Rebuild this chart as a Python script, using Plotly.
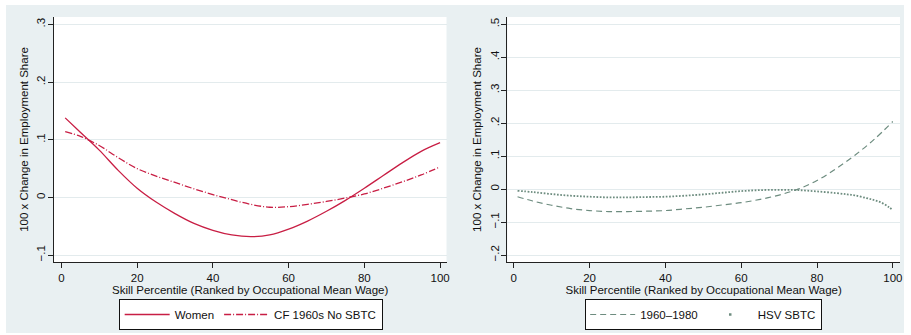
import plotly.graph_objects as go

# ---- data ----
pct = [1, 5, 10, 15, 20, 25, 30, 35, 40, 45, 50, 55, 60, 65, 70, 75, 80, 85, 90, 95, 100]
women = [0.138, 0.113, 0.082, 0.047, 0.016, -0.008, -0.028, -0.045, -0.057, -0.065, -0.068,
         -0.065, -0.055, -0.041, -0.024, -0.005, 0.016, 0.038, 0.060, 0.080, 0.095]
cf1960 = [0.114, 0.106, 0.090, 0.069, 0.050, 0.037, 0.026, 0.015, 0.005, -0.004, -0.012,
          -0.017, -0.016, -0.012, -0.007, -0.001, 0.006, 0.016, 0.027, 0.039, 0.053]

pct_r = [1, 5, 10, 15, 20, 25, 30, 35, 40, 45, 50, 55, 60, 65, 70, 75, 80, 85, 90, 95, 100]
emp_6080 = [-0.023, -0.036, -0.049, -0.059, -0.065, -0.068, -0.068, -0.067, -0.065, -0.060, -0.055,
            -0.048, -0.041, -0.031, -0.018, 0.000, 0.026, 0.062, 0.103, 0.150, 0.205]
pct_h = [1, 5, 10, 15, 20, 25, 30, 35, 40, 45, 50, 55, 60, 65, 70, 75, 80, 85, 88, 90, 93, 95, 97, 99, 100]
hsv_sbtc = [-0.005, -0.009, -0.015, -0.020, -0.023, -0.025, -0.025, -0.024, -0.023, -0.020, -0.016,
            -0.011, -0.006, -0.003, -0.002, -0.003, -0.007, -0.012, -0.016, -0.019, -0.027, -0.033,
            -0.041, -0.055, -0.064]

x_ticks = [0, 20, 40, 60, 80, 100]
y_ticks_l = [-0.1, 0, 0.1, 0.2, 0.3]
y_text_l = ["\u2212.1", "0", ".1", ".2", ".3"]
y_ticks_r = [-0.2, -0.1, 0, 0.1, 0.2, 0.3, 0.4, 0.5]
y_text_r = ["\u2212.2", "\u2212.1", "0", ".1", ".2", ".3", ".4", ".5"]

RED = "#c81e44"
GRN = "#6d8c7f"
BG = "#e9f0f2"
GRID = "#e3ebed"
FONT = "Liberation Sans, Arial, sans-serif"
FS = 11.5
W, H = 911, 335

fig = go.Figure()
fig.add_trace(go.Scatter(x=pct, y=women, mode="lines", name="Women",
                         line=dict(color=RED, width=1.3, shape="spline"),
                         xaxis="x", yaxis="y", legend="legend"))
fig.add_trace(go.Scatter(x=pct, y=cf1960, mode="lines", name="CF 1960s No SBTC",
                         line=dict(color=RED, width=1.3, shape="spline", dash="7px,2px,1px,2px"),
                         xaxis="x", yaxis="y", legend="legend"))
fig.add_trace(go.Scatter(x=pct_r, y=emp_6080, mode="lines", name="1960\u20131980",
                         line=dict(color=GRN, width=1.2, shape="spline", dash="6px,4px"),
                         xaxis="x2", yaxis="y2", legend="legend2"))
fig.add_trace(go.Scatter(x=pct_h, y=hsv_sbtc, mode="lines", name="HSV SBTC",
                         line=dict(color=GRN, width=1.8, shape="spline", dash="1.7px,1.6px"),
                         xaxis="x2", yaxis="y2", legend="legend2", legendgroup="hsv",
                         showlegend=False))
# legend key for the dotted series: Stata shows a single dot as the key
fig.add_trace(go.Scatter(x=[None], y=[None], mode="markers", name="HSV SBTC",
                         marker=dict(color=GRN, size=2.5, symbol="square"),
                         xaxis="x2", yaxis="y2", legend="legend2", legendgroup="hsv"))

def px_x(a, b):
    return [a / W, b / W]

def px_y(top, bottom):
    return [1 - bottom / H, 1 - top / H]

axis_common = dict(showline=True, linecolor="#222", linewidth=1, ticks="outside",
                   ticklen=5, tickcolor="#222", tickwidth=1, zeroline=False,
                   tickfont=dict(size=FS, color="#111", family=FONT),
                   mirror=False)

title_x = "Skill Percentile (Ranked by Occupational Mean Wage)"
title_y = "100 x Change in Employment Share"

fig.update_layout(
    width=W, height=H, margin=dict(l=0, r=0, t=0, b=0),
    paper_bgcolor="white", plot_bgcolor="rgba(0,0,0,0)",
    font=dict(family=FONT, size=FS, color="#111"),
    xaxis=dict(domain=px_x(54, 448), anchor="y", range=[-2.0, 101.7], tickvals=x_ticks,
               showgrid=False, title=dict(text=title_x, standoff=1, font=dict(size=FS)), **axis_common),
    yaxis=dict(domain=px_y(17, 262), anchor="x", range=[-0.112, 0.313], tickvals=y_ticks_l,
               ticktext=y_text_l, tickangle=-90, showgrid=True, gridcolor=GRID, gridwidth=1,
               ticklabelstandoff=-2,
               title=dict(text=title_y, standoff=4, font=dict(size=FS)), **axis_common),
    xaxis2=dict(domain=px_x(509, 903), anchor="y2", range=[-1.7, 101.9], tickvals=x_ticks,
                showgrid=False, title=dict(text=title_x, standoff=1, font=dict(size=FS)), **axis_common),
    yaxis2=dict(domain=px_y(17, 262), anchor="x2", range=[-0.221, 0.522], tickvals=y_ticks_r,
                ticktext=y_text_r, tickangle=-90, showgrid=True, gridcolor=GRID, gridwidth=1,
                ticklabelstandoff=-2,
                title=dict(text=title_y, standoff=4, font=dict(size=FS)), **axis_common),
    legend=dict(orientation="h", x=251.5 / W, xanchor="center", y=1 - 299 / H, yanchor="top",
                bgcolor="white", bordercolor="#111", borderwidth=1, font=dict(size=FS),
                itemwidth=45, tracegroupgap=0),
    legend2=dict(orientation="h", x=706 / W, xanchor="center", y=1 - 299 / H, yanchor="top",
                 bgcolor="white", bordercolor="#111", borderwidth=1, font=dict(size=FS),
                 itemwidth=45, tracegroupgap=0, itemsizing="trace"),
    shapes=[
        dict(type="rect", xref="paper", yref="paper", x0=6 / W, x1=907 / W, y0=1 - 333 / H, y1=1 - 5 / H,
             fillcolor=BG, line=dict(width=0), layer="below"),
        dict(type="rect", xref="paper", yref="paper", x0=54 / W, x1=448 / W, y0=1 - 262 / H, y1=1 - 17 / H,
             fillcolor="white", line=dict(width=0), layer="below"),
        dict(type="rect", xref="paper", yref="paper", x0=509 / W, x1=903 / W, y0=1 - 262 / H, y1=1 - 17 / H,
             fillcolor="white", line=dict(width=0), layer="below"),
    ],
)

fig.write_html("out.html")
